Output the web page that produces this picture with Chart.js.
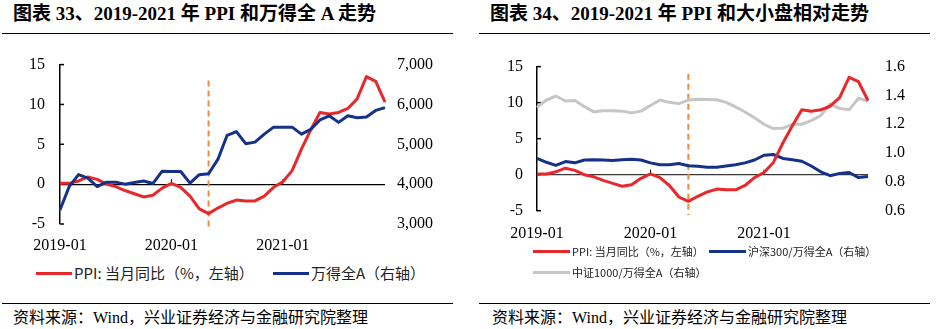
<!DOCTYPE html>
<html>
<head>
<meta charset="utf-8">
<script src="https://cdn.jsdelivr.net/npm/chart.js@4.4.1/dist/chart.umd.min.js"></script>
<style>
  html, body { margin: 0; padding: 0; background: #fff; }
  body { width: 937px; height: 329px; position: relative; overflow: hidden;
         font-family: "Liberation Serif", "Noto Sans CJK SC", serif; color: #000; }
  .title { position: absolute; top: 2px; font-size: 19px; font-weight: bold; line-height: 24px; white-space: nowrap; }
  .rule { position: absolute; height: 0; border-top: 1.5px solid #000; }
  .source { position: absolute; top: 308px; font-size: 16px; line-height: 20px; white-space: nowrap; }
  .box { position: absolute; }
  .lg { position: absolute; display: flex; align-items: center; white-space: nowrap; line-height: 20px;
        font-family: "Noto Sans CJK SC", sans-serif; color: #222; }
  .lg i { display: inline-block; height: 3px; margin-right: 2px; }
</style>
</head>
<body>
<div class="title" style="left:13px">图表 33、2019-2021 年 PPI 和万得全 A 走势</div>
<div class="title" style="left:490px">图表 34、2019-2021 年 PPI 和大小盘相对走势</div>
<div class="rule" style="left:2px;width:451px;top:33px"></div>
<div class="rule" style="left:479px;width:451px;top:33px"></div>

<div class="box" style="left:0;top:40px"><canvas id="ppiAll" width="466" height="215"></canvas></div>
<div class="box" style="left:470px;top:40px"><canvas id="ppiSize" width="467" height="205"></canvas></div>
<div id="legend1"></div>
<div id="legend2"></div>

<div class="rule" style="left:2px;width:451px;top:303px"></div>
<div class="rule" style="left:479px;width:451px;top:303px"></div>
<div class="source" style="left:13px">资料来源：Wind，兴业证券经济与金融研究院整理</div>
<div class="source" style="left:492px">资料来源：Wind，兴业证券经济与金融研究院整理</div>

<script>
// monthly data, 2019-01 .. 2021-12
var months = [
  "2019-01", "2019-02", "2019-03", "2019-04", "2019-05", "2019-06",
  "2019-07", "2019-08", "2019-09", "2019-10", "2019-11", "2019-12",
  "2020-01", "2020-02", "2020-03", "2020-04", "2020-05", "2020-06",
  "2020-07", "2020-08", "2020-09", "2020-10", "2020-11", "2020-12",
  "2021-01", "2021-02", "2021-03", "2021-04", "2021-05", "2021-06",
  "2021-07", "2021-08", "2021-09", "2021-10", "2021-11", "2021-12",
];

// PPI: 当月同比 (%)
var ppiYoY = [
  0.1, 0.1, 0.4, 0.9, 0.6, 0.0, -0.3, -0.8, -1.2, -1.6, -1.4, -0.5,
  0.1, -0.4, -1.5, -3.1, -3.7, -3.0, -2.4, -2.0, -2.1, -2.1, -1.5, -0.4,
  0.3, 1.7, 4.4, 6.8, 9.0, 8.8, 9.0, 9.5, 10.7, 13.5, 12.9, 10.3,
];

// 万得全A 月末收盘
var windAll = [
  3350, 3945, 4240, 4150, 3940, 4050, 4050, 4000, 4040, 4080, 4015, 4325,
  4318, 4318, 4025, 4238, 4262, 4620, 5225, 5320, 5015, 5055, 5255, 5430,
  5430, 5430, 5255, 5375, 5610, 5715, 5550, 5715, 5665, 5685, 5850, 5920,
];

// 沪深300/万得全A
var hs300Ratio = [
  0.963, 0.936, 0.914, 0.941, 0.932, 0.952, 0.954, 0.952, 0.948, 0.954, 0.957, 0.952,
  0.932, 0.919, 0.919, 0.928, 0.912, 0.908, 0.902, 0.901, 0.910, 0.919, 0.932, 0.952,
  0.985, 0.990, 0.963, 0.954, 0.943, 0.910, 0.870, 0.843, 0.859, 0.865, 0.830, 0.837,
];

// 中证1000/万得全A
var csi1000Ratio = [
  1.317, 1.368, 1.396, 1.361, 1.365, 1.323, 1.286, 1.293, 1.293, 1.291, 1.279, 1.291,
  1.330, 1.368, 1.352, 1.343, 1.368, 1.373, 1.372, 1.370, 1.352, 1.320, 1.285, 1.245,
  1.200, 1.170, 1.172, 1.200, 1.200, 1.225, 1.260, 1.340, 1.310, 1.300, 1.380, 1.360,
];

var leftTicks = [-5, 15, 5];          // min, max, step (%)
var allTicks = [3000, 7000, 1000];    // 万得全A axis
var ratioTicks = [0.6, 1.6, 0.2];     // ratio axis
var markMonth = "2020-05";

var RED = "#E8282B", BLUE = "#15318A", GREY = "#C6C6C6", ORANGE = "#F08C3C";
var tickFont = { family: "Liberation Serif", size: 16 };

// inward ticks on the left axis, small ticks on the zero line, dashed marker
var axisMarks = {
  id: "axisMarks",
  beforeDatasetsDraw: function (chart, args, opts) {
    var ctx = chart.ctx;
    var x = chart.scales.x, y = chart.scales.y;
    ctx.save();
    ctx.strokeStyle = opts.color;
    ctx.lineWidth = 1.5;
    y.ticks.forEach(function (t) {
      var py = y.getPixelForValue(t.value);
      ctx.beginPath();
      ctx.moveTo(y.right, py);
      ctx.lineTo(y.right + 4, py);
      ctx.stroke();
    });
    var y0 = y.getPixelForValue(0);
    ctx.lineWidth = 1;
    months.forEach(function (m, i) {
      if (i > 0 && m.slice(5) === "01") {
        var px = x.getPixelForValue(i);
        ctx.beginPath();
        ctx.moveTo(px, y0);
        ctx.lineTo(px, y0 - 5);
        ctx.stroke();
      }
    });
    var mx = x.getPixelForValue(months.indexOf(markMonth));
    ctx.strokeStyle = ORANGE;
    ctx.lineWidth = 2;
    ctx.setLineDash([6, 4]);
    ctx.beginPath();
    ctx.moveTo(mx, y.getPixelForValue(opts.top));
    ctx.lineTo(mx, y.getPixelForValue(opts.bottom));
    ctx.stroke();
    ctx.restore();
  },
};

function line(label, data, color, axis, order) {
  return {
    label: label, data: data, borderColor: color, backgroundColor: color,
    borderWidth: 3, pointRadius: 0, tension: 0, borderJoinStyle: "round",
    yAxisID: axis, order: order,
  };
}

function buildOptions(cfg) {
  return {
    responsive: false,
    animation: false,
    layout: { padding: { top: cfg.top, left: 0, right: 0, bottom: 0 } },
    plugins: {
      legend: { display: false },
      tooltip: { enabled: false },
      axisMarks: { color: cfg.axisColor, top: cfg.markTop, bottom: cfg.markBottom },
    },
    scales: {
      x: {
        grid: { display: false },
        border: { display: false },
        ticks: {
          autoSkip: false, maxRotation: 0, padding: cfg.xPad, font: tickFont, color: "#000",
          callback: function (v, i) { return months[i].slice(5) === "01" ? months[i] : null; },
        },
        afterFit: function (s) { s.height = cfg.xHeight; },
      },
      y: {
        position: "left",
        min: leftTicks[0], max: leftTicks[1],
        ticks: { stepSize: leftTicks[2], padding: cfg.yPad, font: tickFont, color: "#000" },
        grid: {
          drawTicks: false, lineWidth: 1.3,
          color: function (c) { return c.tick.value === 0 ? cfg.zeroColor : "rgba(0,0,0,0)"; },
        },
        border: { display: true, color: cfg.axisColor, width: 1.5 },
        afterFit: function (s) { s.width = cfg.yWidth; },
      },
      y1: {
        position: "right",
        min: cfg.right[0], max: cfg.right[1],
        ticks: { stepSize: cfg.right[2], padding: cfg.y1Pad, font: tickFont, color: "#000", callback: cfg.fmt },
        grid: { display: false, drawTicks: false },
        border: { display: false },
        afterFit: function (s) { s.width = cfg.y1Width; },
      },
    },
  };
}

var chart1 = new Chart(document.getElementById("ppiAll").getContext("2d"), {
  type: "line",
  data: {
    labels: months,
    datasets: [
      line("PPI: 当月同比（%，左轴）", ppiYoY, RED, "y", 1),
      line("万得全A（右轴）", windAll, BLUE, "y1", 0),
    ],
  },
  options: buildOptions({
    top: 16.7, xPad: 4, xHeight: 31, yPad: 15, yWidth: 60, y1Pad: 12, y1Width: 81,
    axisColor: "#000", zeroColor: "#000", markTop: 13, markBottom: -5.5, right: allTicks,
    fmt: function (v) { return v.toLocaleString("en-US"); },
  }),
  plugins: [axisMarks],
});

var chart2 = new Chart(document.getElementById("ppiSize").getContext("2d"), {
  type: "line",
  data: {
    labels: months,
    datasets: [
      line("PPI: 当月同比（%，左轴）", ppiYoY, RED, "y", 0),
      line("沪深300/万得全A（右轴）", hs300Ratio, BLUE, "y1", 1),
      line("中证1000/万得全A（右轴）", csi1000Ratio, GREY, "y1", 2),
    ],
  },
  options: buildOptions({
    top: 20, xPad: 5, xHeight: 34.3, yPad: 14, yWidth: 67, y1Pad: 17, y1Width: 69,
    axisColor: "#000", zeroColor: "#3A3A3A", markTop: 14, markBottom: -5.6, right: ratioTicks,
    fmt: function (v) { return v.toFixed(1); },
  }),
  plugins: [axisMarks],
});

// legends built from the chart datasets
function buildLegend(chart, holderId, spots, fontSize, lineLen) {
  var holder = document.getElementById(holderId);
  chart.data.datasets.forEach(function (ds, i) {
    var item = document.createElement("div");
    item.className = "lg";
    item.style.left = spots[i][0] + "px";
    item.style.top = (spots[i][1] - 10) + "px";
    item.style.fontSize = fontSize + "px";
    var mark = document.createElement("i");
    mark.style.width = lineLen + "px";
    mark.style.background = ds.borderColor;
    item.appendChild(mark);
    item.appendChild(document.createTextNode(ds.label));
    holder.appendChild(item);
  });
}
buildLegend(chart1, "legend1", [[36, 273], [273, 273]], 15, 36);
buildLegend(chart2, "legend2", [[533, 251], [709, 251], [533, 272]], 11, 37);
</script>
</body>
</html>
